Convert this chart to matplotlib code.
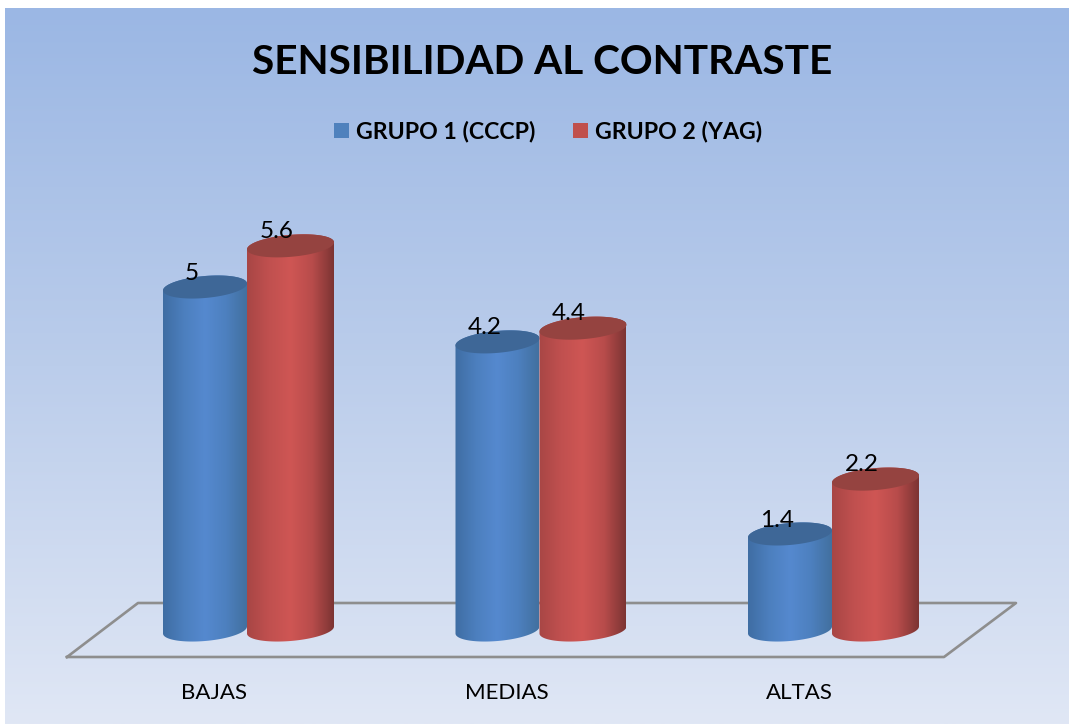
import numpy as np
import matplotlib
matplotlib.use('Agg')
import matplotlib.pyplot as plt
from matplotlib.colors import LinearSegmentedColormap
from matplotlib.lines import Line2D
from matplotlib.patches import Patch, Polygon, PathPatch
from matplotlib.path import Path

categories = ['BAJAS', 'MEDIAS', 'ALTAS']
grupo1 = [5, 4.2, 1.4]
grupo2 = [5.6, 4.4, 2.2]
labels1 = ['5', '4.2', '1.4']
labels2 = ['5.6', '4.4', '2.2']
series_names = ['GRUPO 1 (CCCP)', 'GRUPO 2 (YAG)']

W, H = 1071, 724
BASE = 630          # pixel row of value 0
PX_UNIT = 68.6      # pixels per value unit
SPACING = 292.5     # pixels between categories
CENTER0 = 248

plt.rcParams['font.family'] = ['Lato', 'DejaVu Sans']

fig = plt.figure(figsize=(W / 100, H / 100), dpi=100, facecolor='white')

# background gradient
bg = fig.add_axes([5 / W, 0, 1064 / W, 716 / H], zorder=0)
bg_cmap = LinearSegmentedColormap.from_list('bg', ['#9BB7E4', '#BBCDEB', '#E0E7F5'])
bg.imshow(np.linspace(0, 1, 256).reshape(-1, 1), aspect='auto', cmap=bg_cmap)
bg.axis('off')

# floor of the 3d chart
floor = [(67, 657), (138, 603), (1016, 603), (944, 657), (67, 657)]
fig.add_artist(Line2D([p[0] / W for p in floor], [1 - p[1] / H for p in floor],
                      color='#8E8E8E', lw=1.9, zorder=1))

ax = fig.add_axes([0, (H - BASE) / H, 1, BASE / H], zorder=2)
ax.patch.set_alpha(0)
xlim = (-CENTER0 / SPACING, (W - CENTER0) / SPACING)
ylim = (0, BASE / PX_UNIT)


def cylinder(x, v, half_w, colors, top_color):
    # half_w in category units, ellipse sizes in pixels turned into value units
    b = 11 / PX_UNIT
    s = 3.5 / PX_UNIT
    t_low = np.linspace(np.pi, 2 * np.pi, 60)
    t_up = np.linspace(0, np.pi, 60)
    xs = np.r_[x + half_w * np.cos(t_low), x + half_w * np.cos(t_up)]
    ys = np.r_[b * np.sin(t_low) + s * np.cos(t_low),
               v + b * np.sin(t_up) + s * np.cos(t_up)]
    cmap = LinearSegmentedColormap.from_list('cyl', colors)
    im = ax.imshow(np.linspace(0, 1, 256).reshape(1, -1), cmap=cmap, aspect='auto',
                   extent=(x - half_w, x + half_w, -0.3, v + 0.3), zorder=3)
    clip = PathPatch(Path(np.c_[xs, ys]), transform=ax.transData)
    im.set_clip_path(clip)
    im.set_clip_box(fig.bbox)
    t = np.linspace(0, 2 * np.pi, 120)
    ax.add_patch(Polygon(np.c_[x + half_w * np.cos(t),
                               v + b * np.sin(t) + s * np.cos(t)],
                         closed=True, fc=top_color, ec='none', zorder=3))


blue = ['#3F6DA3', '#4C7FBE', '#5589CF', '#4D80BF', '#42709F']
red = ['#A84645', '#C0504F', '#CF5654', '#B84C4B', '#7C3433']

for i in range(len(categories)):
    xb = i - 43 / SPACING
    xr = i + 42.5 / SPACING
    cylinder(xb, grupo1[i], 42 / SPACING, blue, '#3E6797')
    cylinder(xr, grupo2[i], 43.5 / SPACING, red, '#954340')
    ax.annotate(labels1[i], (xb, grupo1[i]), xytext=(-9.5, 10), textcoords='offset points',
                ha='center', va='center', fontsize=17.5, color='black', zorder=5)
    ax.annotate(labels2[i], (xr, grupo2[i]), xytext=(-10, 10.5), textcoords='offset points',
                ha='center', va='center', fontsize=17.5, color='black', zorder=5)

ax.set_xlim(xlim)
ax.set_ylim(ylim)
# the labels sit on the front edge of the floor, left of the bars
ax.set_xticks([i - 34 / SPACING for i in range(len(categories))])
ax.set_xticklabels(categories, fontsize=16, color='black')
ax.set_yticks([])
ax.tick_params(axis='x', length=0, pad=38.5)
for sp in ax.spines.values():
    sp.set_visible(False)

fig.text(542.5 / W, 1 - 62 / H, 'SENSIBILIDAD AL CONTRASTE', ha='center', va='center',
         fontsize=29.2, fontweight='bold', color='black')

handles = [Patch(fc='#4F81BD', ec='none'), Patch(fc='#C0504D', ec='none')]
ax.legend(handles, series_names, loc='center', bbox_to_anchor=(548 / W, 1 - 132 / H),
          bbox_transform=fig.transFigure, ncol=2, frameon=False,
          prop={'size': 16.7, 'weight': 'bold'}, handlelength=0.65, handleheight=0.65,
          handletextpad=0.3, columnspacing=1.6, borderpad=0)

fig.savefig('out.png', dpi=100)
